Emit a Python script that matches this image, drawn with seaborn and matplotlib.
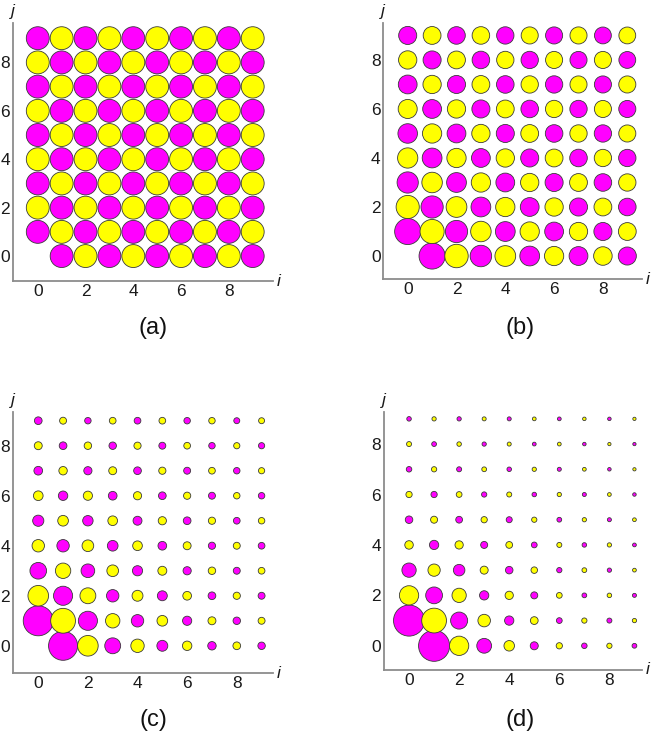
import numpy as np
import pandas as pd
import seaborn as sns
import matplotlib.pyplot as plt
from matplotlib.ticker import MultipleLocator

sns.set_style("white")
plt.rcParams['font.family'] = ['Liberation Sans', 'DejaVu Sans']

# grid indices
i_vals = list(range(10))
j_vals = list(range(10))

# colours: magenta where i+j is odd, yellow where even
col_odd = "#ff00ff"
col_even = "#ffff00"

# circle diameters in data units, rows j=0..9, columns i=0..9 (nan = no circle)
nan = np.nan
diam_a = [
    [nan, 0.96, 0.96, 0.96, 0.96, 0.96, 0.96, 0.96, 0.96, 0.96],
    [0.96, 0.96, 0.96, 0.96, 0.96, 0.96, 0.96, 0.96, 0.96, 0.96],
    [0.96, 0.96, 0.96, 0.96, 0.96, 0.96, 0.96, 0.96, 0.96, 0.96],
    [0.96, 0.96, 0.96, 0.96, 0.96, 0.96, 0.96, 0.96, 0.96, 0.96],
    [0.96, 0.96, 0.96, 0.96, 0.96, 0.96, 0.96, 0.96, 0.96, 0.96],
    [0.96, 0.96, 0.96, 0.96, 0.96, 0.96, 0.96, 0.96, 0.96, 0.96],
    [0.96, 0.96, 0.96, 0.96, 0.96, 0.96, 0.96, 0.96, 0.96, 0.96],
    [0.96, 0.96, 0.96, 0.96, 0.96, 0.96, 0.96, 0.96, 0.96, 0.96],
    [0.96, 0.96, 0.96, 0.96, 0.96, 0.96, 0.96, 0.96, 0.96, 0.96],
    [0.96, 0.96, 0.96, 0.96, 0.96, 0.96, 0.96, 0.96, 0.96, 0.96],
]
diam_b = [
    [nan, 1.07, 0.96, 0.88, 0.85, 0.81, 0.79, 0.77, 0.76, 0.74],
    [1.07, 0.99, 0.91, 0.84, 0.81, 0.79, 0.77, 0.75, 0.74, 0.73],
    [0.95, 0.91, 0.85, 0.81, 0.79, 0.77, 0.75, 0.74, 0.73, 0.72],
    [0.87, 0.84, 0.81, 0.79, 0.77, 0.75, 0.74, 0.73, 0.72, 0.71],
    [0.83, 0.81, 0.79, 0.77, 0.75, 0.74, 0.73, 0.72, 0.71, 0.71],
    [0.80, 0.79, 0.77, 0.75, 0.74, 0.73, 0.72, 0.71, 0.71, 0.70],
    [0.78, 0.77, 0.75, 0.74, 0.73, 0.72, 0.71, 0.71, 0.70, 0.70],
    [0.77, 0.75, 0.74, 0.73, 0.72, 0.71, 0.71, 0.70, 0.70, 0.70],
    [0.75, 0.74, 0.73, 0.72, 0.71, 0.71, 0.70, 0.70, 0.70, 0.69],
    [0.74, 0.73, 0.72, 0.72, 0.71, 0.70, 0.70, 0.70, 0.69, 0.69],
]
diam_c = [
    [nan, 1.17, 0.83, 0.64, 0.54, 0.44, 0.38, 0.34, 0.31, 0.30],
    [1.21, 1.00, 0.77, 0.58, 0.50, 0.43, 0.37, 0.32, 0.30, 0.28],
    [0.83, 0.77, 0.64, 0.50, 0.44, 0.40, 0.35, 0.31, 0.29, 0.28],
    [0.67, 0.62, 0.55, 0.47, 0.41, 0.36, 0.33, 0.30, 0.28, 0.27],
    [0.50, 0.50, 0.47, 0.43, 0.39, 0.35, 0.32, 0.29, 0.28, 0.27],
    [0.45, 0.43, 0.42, 0.39, 0.36, 0.33, 0.31, 0.29, 0.27, 0.26],
    [0.39, 0.38, 0.37, 0.35, 0.33, 0.31, 0.29, 0.28, 0.26, 0.26],
    [0.35, 0.34, 0.33, 0.32, 0.31, 0.29, 0.28, 0.27, 0.26, 0.25],
    [0.32, 0.31, 0.30, 0.30, 0.29, 0.28, 0.27, 0.26, 0.25, 0.25],
    [0.31, 0.28, 0.26, 0.27, 0.27, 0.27, 0.26, 0.26, 0.24, 0.24],
]
diam_d = [
    [nan, 1.24, 0.77, 0.59, 0.42, 0.32, 0.25, 0.22, 0.21, 0.19],
    [1.24, 0.99, 0.68, 0.50, 0.37, 0.31, 0.23, 0.21, 0.20, 0.17],
    [0.77, 0.67, 0.57, 0.37, 0.33, 0.28, 0.23, 0.19, 0.18, 0.16],
    [0.57, 0.49, 0.46, 0.32, 0.30, 0.26, 0.21, 0.19, 0.17, 0.15],
    [0.34, 0.37, 0.33, 0.28, 0.27, 0.23, 0.20, 0.18, 0.17, 0.15],
    [0.30, 0.28, 0.27, 0.25, 0.24, 0.21, 0.19, 0.17, 0.16, 0.15],
    [0.25, 0.25, 0.23, 0.21, 0.20, 0.18, 0.17, 0.16, 0.15, 0.14],
    [0.22, 0.21, 0.20, 0.19, 0.18, 0.17, 0.16, 0.15, 0.14, 0.13],
    [0.20, 0.19, 0.18, 0.17, 0.16, 0.15, 0.15, 0.14, 0.13, 0.13],
    [0.18, 0.17, 0.17, 0.16, 0.16, 0.15, 0.15, 0.14, 0.14, 0.13],
]

panel_labels = ["(a)", "(b)", "(c)", "(d)"]
panel_diams = [diam_a, diam_b, diam_c, diam_d]

W, H = 654, 741
fig = plt.figure(figsize=(W / 100, H / 100), dpi=100)

# axes box in pixels (left, right, top, bottom), data limits, panel label position
layout = [
    ((12.7, 273.0, 22.7, 281.0), (-1.05, 9.85), (-1.03, 9.64), (153, 328)),
    ((383.3, 641.7, 22.7, 279.3), (-1.00, 9.59), (-0.95, 9.52), (520, 328)),
    ((12.7, 273.0, 411.7, 673.3), (-1.03, 9.46), (-1.10, 9.36), (153, 720)),
    ((384.0, 641.7, 412.3, 670.0), (-1.00, 9.29), (-0.96, 9.26), (520, 720)),
]

axis_grey = "#8c8c8c"

for label, grid, (box, xlim, ylim, lab_xy) in zip(panel_labels, panel_diams, layout):
    l, r, t, b = box
    ax = fig.add_axes([l / W, 1 - b / H, (r - l) / W, (b - t) / H])

    recs = []
    for j in j_vals:
        for i in i_vals:
            d = grid[j][i]
            if np.isnan(d):
                continue
            recs.append({"i": i, "j": j, "d": d,
                         "par": "odd" if (i + j) % 2 else "even"})
    df = pd.DataFrame(recs)

    # points per data unit so the circle diameters are in data units
    pt_per_unit = (r - l) / 100 * 72 / (xlim[1] - xlim[0])
    sizes = (df["d"] * pt_per_unit) ** 2

    sns.scatterplot(data=df, x="i", y="j", hue="par",
                    palette={"odd": col_odd, "even": col_even},
                    s=sizes, edgecolor="#3a3a3a", linewidth=0.6,
                    legend=False, ax=ax, clip_on=False, zorder=3)

    ax.set_xlim(*xlim)
    ax.set_ylim(*ylim)
    ax.set_xlabel("")
    ax.set_ylabel("")
    ax.set_facecolor("white")
    for s in ["top", "right"]:
        ax.spines[s].set_visible(False)
    for s in ["left", "bottom"]:
        ax.spines[s].set_color(axis_grey)
        ax.spines[s].set_linewidth(1.3)

    ax.xaxis.set_major_locator(MultipleLocator(2))
    ax.yaxis.set_major_locator(MultipleLocator(2))
    ax.xaxis.set_minor_locator(MultipleLocator(0.5))
    ax.yaxis.set_minor_locator(MultipleLocator(0.5))
    ax.tick_params(which="major", direction="in", length=4, width=0.8,
                   color=axis_grey, labelsize=12.5, labelcolor="#1a1a1a", pad=2)
    ax.tick_params(which="minor", direction="in", length=2.2, width=0.7,
                   color=axis_grey)

    ax.annotate("i", xy=(1, 0), xycoords="axes fraction", xytext=(3, 0),
                textcoords="offset points", ha="left", va="center",
                style="italic", fontsize=12.5, color="#1a1a1a")
    ax.annotate("j", xy=(0, 1), xycoords="axes fraction", xytext=(0, 3),
                textcoords="offset points", ha="center", va="bottom",
                style="italic", fontsize=12.5, color="#1a1a1a")

    fig.text(lab_xy[0] / W, 1 - lab_xy[1] / H, label, ha="center",
             va="center", fontsize=17, color="#111111")

plt.savefig("out.png", dpi=100)
